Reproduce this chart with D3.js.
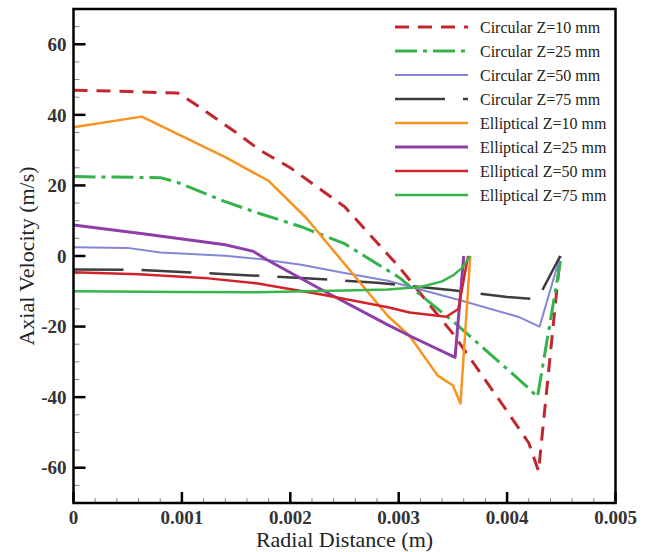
<!DOCTYPE html>
<html>
<head>
<meta charset="utf-8">
<script src="https://cdn.jsdelivr.net/npm/d3@7"></script>
<style>
  body { margin: 0; background: #fff; }
</style>
</head>
<body>
<div id="chart"></div>
<script>
// series names and data: [radial distance (m), axial velocity (m/s)]
var seriesNames = ['Circular Z=10 mm', 'Circular Z=25 mm', 'Circular Z=50 mm', 'Circular Z=75 mm',
  'Elliptical Z=10 mm', 'Elliptical Z=25 mm', 'Elliptical Z=50 mm', 'Elliptical Z=75 mm'];

var circ10 = [[0, 47], [0.0005, 46.6], [0.00096, 46.2], [0.0011, 43.5], [0.0015, 35], [0.00172, 30], [0.002, 25],
  [0.0025, 14], [0.003, -3], [0.0035, -22], [0.004, -44], [0.0042, -53], [0.00429, -61], [0.00449, 0]];
var circ25 = [[0, 22.5], [0.0008, 22.2], [0.00095, 21], [0.0014, 15.4], [0.0017, 12.2], [0.0021, 8.3],
  [0.0025, 3.5], [0.003, -6], [0.0035, -18.5], [0.004, -32], [0.0042, -37.5], [0.00428, -40], [0.0045, 0]];
var circ50 = [[0, 2.5], [0.0005, 2.3], [0.0008, 1], [0.0014, 0.1], [0.0017, -0.8], [0.0021, -2.5],
  [0.0025, -4.8], [0.0029, -7], [0.0036, -12.8], [0.0041, -17.2], [0.0043, -20], [0.00449, 0]];
var circ75 = [[0, -3.8], [0.0006, -3.9], [0.0015, -5.3], [0.0021, -6.2], [0.0028, -7.6], [0.0035, -9.7],
  [0.004, -11.6], [0.00428, -12.3], [0.00449, 0]];
var ell10 = [[0, 36.5], [0.00063, 39.5], [0.0014, 28], [0.0018, 21.3], [0.00215, 10.7], [0.0029, -17],
  [0.0031, -22.6], [0.00336, -33.9], [0.0035, -36.7], [0.00357, -41.8], [0.00366, 0]];
var ell25 = [[0, 8.8], [0.00064, 6.3], [0.0014, 3.2], [0.00166, 1.3], [0.00178, -1], [0.00234, -10.4],
  [0.0029, -19.5], [0.0031, -22.6], [0.00352, -28.7], [0.0036, 0]];
var ell50 = [[0, -4.6], [0.0006, -5.2], [0.0012, -6.2], [0.0017, -7.8], [0.0023, -11], [0.0029, -14.5],
  [0.0031, -16], [0.00344, -17.2], [0.00355, -15], [0.00364, 0]];
var ell75 = [[0, -10], [0.001, -10.2], [0.0017, -10.3], [0.0025, -9.8], [0.0029, -9.5], [0.0032, -8.8],
  [0.0034, -7.2], [0.0035, -5.5], [0.00358, -3.5], [0.00366, 0]];

var seriesData = [circ10, circ25, circ50, circ75, ell10, ell25, ell50, ell75];

var xTicks = [0, 0.001, 0.002, 0.003, 0.004, 0.005];
var xTickLabels = ['0', '0.001', '0.002', '0.003', '0.004', '0.005'];
var yTicks = [-60, -40, -20, 0, 20, 40, 60];

// line looks
var colors = ['#c1272d', '#33b34a', '#8585d6', '#3d3d3d', '#f7931e', '#8e3ea8', '#d3232a', '#39b54a'];
var dashes = ['14,9', '22,6,4,6', null, '50,18', null, null, null, null];
var widths = [3, 3, 2, 2.5, 2.5, 3, 2.5, 2.5];

var serif = "'Liberation Serif', 'Times New Roman', Times, 'DejaVu Serif', serif";

var width = 649, height = 552;
var margin = {left: 73.5, right: 33.5, top: 9, bottom: 49};

var svg = d3.select("#chart").append("svg")
  .attr("width", width)
  .attr("height", height)
  .attr("font-family", serif);

var x = d3.scaleLinear().domain([0, 0.005]).range([margin.left, width - margin.right]);
var y = d3.scaleLinear().domain([-70, 70]).range([height - margin.bottom, margin.top]);

// minor + major ticks, pointing inward
var xMinor = d3.range(0, 0.00501, 0.0002);
var yMinor = d3.range(-70, 70.1, 5);

svg.append("g").selectAll("line")
  .data(xMinor)
  .enter().append("line")
  .attr("x1", d => x(d)).attr("x2", d => x(d))
  .attr("y1", y(-70)).attr("y2", y(-70) - 5)
  .style("stroke", "#888").style("stroke-width", 1);

svg.append("g").selectAll("line")
  .data(yMinor)
  .enter().append("line")
  .attr("x1", x(0)).attr("x2", x(0) + 6)
  .attr("y1", d => y(d)).attr("y2", d => y(d))
  .style("stroke", "#888").style("stroke-width", 1);

svg.append("g").selectAll("line")
  .data(xTicks)
  .enter().append("line")
  .attr("x1", d => x(d)).attr("x2", d => x(d))
  .attr("y1", y(-70)).attr("y2", y(-70) - 11)
  .style("stroke", "#000").style("stroke-width", 2.5);

svg.append("g").selectAll("line")
  .data(yTicks)
  .enter().append("line")
  .attr("x1", x(0)).attr("x2", x(0) + 12)
  .attr("y1", d => y(d)).attr("y2", d => y(d))
  .style("stroke", "#000").style("stroke-width", 2.5);

// tick labels
svg.append("g").selectAll("text")
  .data(xTicks)
  .enter().append("text")
  .attr("x", d => x(d))
  .attr("y", y(-70) + 21)
  .attr("text-anchor", "middle")
  .attr("font-family", serif)
  .attr("font-size", "19px")
  .attr("font-weight", "bold")
  .attr("fill", "#333")
  .text((d, i) => xTickLabels[i]);

svg.append("g").selectAll("text")
  .data(yTicks)
  .enter().append("text")
  .attr("x", x(0) - 7)
  .attr("y", d => y(d))
  .attr("dy", "0.35em")
  .attr("text-anchor", "end")
  .attr("font-family", serif)
  .attr("font-size", "19px")
  .attr("font-weight", "bold")
  .attr("fill", "#333")
  .text(d => d);

// axis titles
svg.append("text")
  .attr("x", (x(0) + x(0.005)) / 2)
  .attr("y", 547)
  .attr("text-anchor", "middle")
  .attr("font-family", serif)
  .attr("font-size", "22px")
  .attr("fill", "#222")
  .text("Radial Distance (m)");

svg.append("text")
  .attr("transform", "translate(34," + y(0) + ") rotate(-90)")
  .attr("text-anchor", "middle")
  .attr("font-family", serif)
  .attr("font-size", "22px")
  .attr("fill", "#222")
  .text("Axial Velocity (m/s)");

// the curves
var line = d3.line()
  .x(d => x(d[0]))
  .y(d => y(d[1]));

svg.append("g").selectAll("path")
  .data(seriesData)
  .enter().append("path")
  .attr("d", d => line(d))
  .style("fill", "none")
  .style("stroke", (d, i) => colors[i])
  .style("stroke-width", (d, i) => widths[i])
  .style("stroke-dasharray", (d, i) => dashes[i])
  .style("stroke-linejoin", "round");

// frame
svg.append("rect")
  .attr("x", x(0)).attr("y", y(70))
  .attr("width", x(0.005) - x(0))
  .attr("height", y(-70) - y(70))
  .style("fill", "none")
  .style("stroke", "#000")
  .style("stroke-width", 2.5);

// legend
var legend = svg.append("g").selectAll("g")
  .data(seriesNames)
  .enter().append("g")
  .attr("transform", (d, i) => "translate(395," + (27 + i * 24) + ")");

legend.append("line")
  .attr("x1", 0).attr("x2", 73)
  .attr("y1", 0).attr("y2", 0)
  .style("stroke", (d, i) => colors[i])
  .style("stroke-width", (d, i) => widths[i])
  .style("stroke-dasharray", (d, i) => dashes[i]);

legend.append("text")
  .attr("x", 85)
  .attr("y", 0)
  .attr("dy", "0.35em")
  .attr("font-family", serif)
  .attr("font-size", "16px")
  .attr("fill", "#222")
  .text(d => d);
</script>
</body>
</html>
